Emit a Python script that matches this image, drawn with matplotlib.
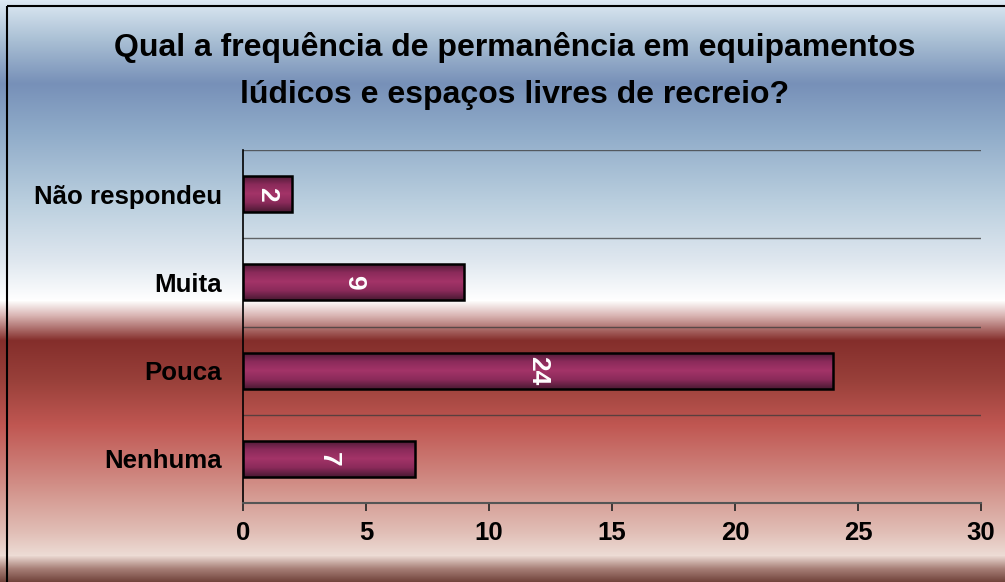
import numpy as np
import matplotlib
matplotlib.use("Agg")
import matplotlib.pyplot as plt
from matplotlib.colors import LinearSegmentedColormap, to_rgb
from matplotlib.patches import Rectangle

categories = ["Não respondeu", "Muita", "Pouca", "Nenhuma"]
values = [2, 9, 24, 7]
xticks = [0, 5, 10, 15, 20, 25, 30]
title = "Qual a frequência de permanência em equipamentos\nlúdicos e espaços livres de recreio?"

plt.rcParams['font.family'] = ['Liberation Sans', 'DejaVu Sans']

W, H = 1005, 582
fig = plt.figure(figsize=(W/100, H/100), dpi=100)

# background gradient (vertical)
stops = [
    (0, "#dde9f3"), (40, "#a9bfd4"), (83, "#7790b8"), (130, "#8eaac8"),
    (200, "#b9cede"), (260, "#dfe7ef"), (300, "#ffffff"), (315, "#d9b5b3"),
    (340, "#842e2b"), (380, "#99403a"), (425, "#c05752"), (480, "#d08a83"),
    (530, "#e0bcb4"), (555, "#eddcd5"), (568, "#a88078"), (582, "#6e4038"),
]
ys = np.arange(H)
sy = [s[0] for s in stops]
cols = np.array([to_rgb(s[1]) for s in stops])
grad = np.stack([np.interp(ys, sy, cols[:, i]) for i in range(3)], axis=1)
bg = fig.add_axes([0, 0, 1, 1], zorder=0)
bg.imshow(grad[:, None, :], aspect='auto', extent=[0, W, H, 0])
bg.set_xlim(0, W); bg.set_ylim(H, 0)
bg.axis('off')
bg.add_patch(Rectangle((7, 6), W, H, fill=False, edgecolor='black', linewidth=1.5))

ax = fig.add_axes([243/W, 1-503/H, (981-243)/W, (503-150)/H], zorder=1)
ax.patch.set_alpha(0)
n = len(categories)
pos = np.arange(n)[::-1]
ax.set_xlim(0, 30)
ax.set_ylim(-0.5, n-0.5)

# grid lines
for y in np.arange(n+1) - 0.5:
    ax.axhline(y, color='#3a3a3a', lw=1.0, alpha=0.75, zorder=1)

bh = 0.41
bar_cmap = LinearSegmentedColormap.from_list("b", ["#4a1a33", "#8a2a5a", "#a33468", "#8a2a5a", "#4a1a33"])
gv = np.linspace(0, 1, 100)[:, None]
bars = ax.barh(pos, values, height=bh, color='none', edgecolor='black', linewidth=1.8, zorder=3)
for b, v, p in zip(bars, values, pos):
    im = ax.imshow(gv, cmap=bar_cmap, aspect='auto',
                   extent=[0, v, p - bh/2, p + bh/2], zorder=2)
    im.set_clip_path(b)
    ax.text(v/2, p, str(v), rotation=270, ha='center', va='center',
            color='white', fontsize=19, fontweight='bold', zorder=4)
ax.set_xlim(0, 30)
ax.set_ylim(-0.5, n-0.5)

ax.set_yticks(pos)
ax.set_yticklabels(categories, fontsize=18.6, fontweight='bold')
ax.set_xticks(xticks)
ax.set_xticklabels([str(t) for t in xticks], fontsize=18.5, fontweight='bold')
ax.tick_params(axis='y', length=0, pad=15)
ax.tick_params(axis='x', direction='out', length=6, width=1.2, color='#222222', pad=7)
for s in ['top', 'right']:
    ax.spines[s].set_visible(False)
ax.spines['left'].set_color('black')
ax.spines['left'].set_linewidth(1.2)
ax.spines['bottom'].set_color('#555555')
ax.spines['bottom'].set_linewidth(1.5)

fig.text(515/W, 1-71/H, title, ha='center', va='center', fontsize=23,
         fontweight='bold', linespacing=1.72)

fig.savefig("out.png", dpi=100)
